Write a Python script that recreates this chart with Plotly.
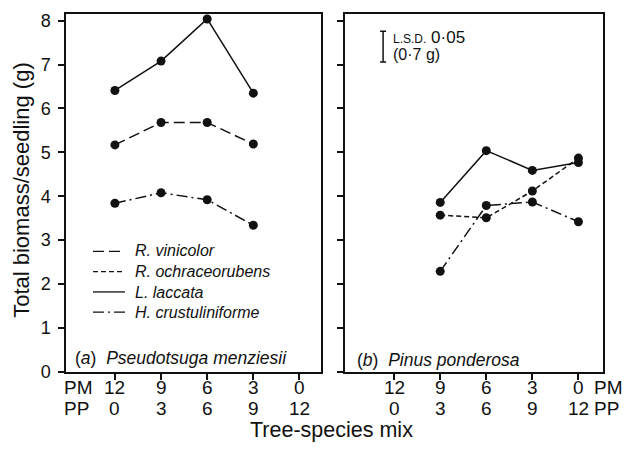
import plotly.graph_objects as go

# ---------------- data ----------------
pp_ticks = [0, 3, 6, 9, 12]              # number of PP seedlings (x position)
pm_labels = ["12", "9", "6", "3", "0"]
pp_labels = ["0", "3", "6", "9", "12"]

pp_a = [0, 3, 6, 9]
a_vinicolor = [5.17, 5.68, 5.68, 5.19]
a_laccata = [6.41, 7.08, 8.04, 6.35]
a_crust = [3.84, 4.08, 3.92, 3.34]

pp_b = [3, 6, 9, 12]
b_laccata = [3.86, 5.04, 4.59, 4.77]
b_ochra = [3.57, 3.51, 4.12, 4.87]
b_crust = [2.29, 3.79, 3.87, 3.42]

lsd = 0.7
y_ticks = [0, 1, 2, 3, 4, 5, 6, 7, 8]
legend_names = ["R. vinicolor", "R. ochraceorubens", "L. laccata", "H. crustuliniforme"]

# ---------------- styles ----------------
FONT = "Liberation Sans, Arial, sans-serif"
BLACK = "#111111"
dash_vin = "11px,5px"
dash_och = "5px,3px"
dash_lac = "solid"
dash_cru = "11px,4px,2px,4px"
legend_dashes = [dash_vin, dash_och, dash_lac, dash_cru]

W, H = 631, 449
px = lambda v: v / W
py = lambda v: (H - v) / H

fig = go.Figure()

def series(x, y, dash, xa, ya):
    fig.add_trace(go.Scatter(
        x=x, y=y, mode="lines+markers", xaxis=xa, yaxis=ya,
        line=dict(color=BLACK, width=1.5, dash=dash),
        marker=dict(color=BLACK, size=9),
        showlegend=False, hoverinfo="skip"))

series(pp_a, a_laccata, dash_lac, "x", "y")
series(pp_a, a_vinicolor, dash_vin, "x", "y")
series(pp_a, a_crust, dash_cru, "x", "y")
series(pp_b, b_laccata, dash_lac, "x2", "y2")
series(pp_b, b_ochra, dash_och, "x2", "y2")
series(pp_b, b_crust, dash_cru, "x2", "y2")

# LSD bar
fig.add_trace(go.Scatter(
    x=[-0.72], y=[7.41], mode="markers", xaxis="x2", yaxis="y2",
    marker=dict(size=1, color="rgba(0,0,0,0)"),
    error_y=dict(type="constant", value=lsd / 2, color=BLACK, thickness=1.5, width=3),
    showlegend=False, hoverinfo="skip"))

ydom = [py(380), py(12)]
axis_common = dict(showline=True, linecolor=BLACK, linewidth=1.5, mirror=True,
                   ticks="outside", ticklen=6, tickwidth=1.5, tickcolor=BLACK,
                   showgrid=False, zeroline=False)

fig.update_layout(
    width=W, height=H,
    margin=dict(l=0, r=0, t=0, b=0),
    paper_bgcolor="white", plot_bgcolor="white",
    font=dict(family=FONT, color=BLACK),
    showlegend=False,
    xaxis=dict(domain=[px(66), px(321)], range=[-3.18, 13.4], tickvals=pp_ticks,
               showticklabels=False, anchor="y", **axis_common),
    xaxis2=dict(domain=[px(345), px(603)], range=[-3.2, 13.6], tickvals=pp_ticks,
                showticklabels=False, anchor="y2", **axis_common),
    yaxis=dict(domain=ydom, range=[0, 8.16], tickvals=y_ticks, anchor="x",
               tickfont=dict(size=18), ticklabelstandoff=4,
               showticklabels=True, **axis_common),
    yaxis2=dict(domain=ydom, range=[0, 8.16], tickvals=y_ticks, anchor="x2",
                showticklabels=False, **axis_common),
)

ann = []
shapes = []
row1_y = py(396)
row2_y = py(418)
for xa in ["x", "x2"]:
    for v, pm, pp in zip(pp_ticks, pm_labels, pp_labels):
        ann.append(dict(x=v, y=row1_y, xref=xa, yref="paper", text=pm, showarrow=False,
                        font=dict(size=19), xanchor="center", yanchor="middle"))
        ann.append(dict(x=v, y=row2_y, xref=xa, yref="paper", text=pp, showarrow=False,
                        font=dict(size=19), xanchor="center", yanchor="middle"))
for xp in [px(64), px(594)]:
    ann.append(dict(x=xp, y=row1_y, xref="paper", yref="paper", text="PM", showarrow=False,
                    font=dict(size=19), xanchor="left", yanchor="middle", xshift=-2))
    ann.append(dict(x=xp, y=row2_y, xref="paper", yref="paper", text="PP", showarrow=False,
                    font=dict(size=19), xanchor="left", yanchor="middle", xshift=-2))
ann.append(dict(x=px(331), y=py(440), xref="paper", yref="paper",
                text="Tree-species mix", showarrow=False, font=dict(size=21.5),
                xanchor="center", yanchor="middle"))
ann.append(dict(x=px(22), y=py(193), xref="paper", yref="paper",
                text="Total biomass/seedling (g)", showarrow=False, font=dict(size=22),
                textangle=-90, xanchor="center", yanchor="middle"))
ann.append(dict(x=px(73), y=py(366), xref="paper", yref="paper",
                text="(<i>a</i>)  <i>Pseudotsuga menziesii</i>", showarrow=False,
                font=dict(size=17.5), xanchor="left", yanchor="middle"))
ann.append(dict(x=px(355), y=py(368), xref="paper", yref="paper",
                text="(<i>b</i>)  <i>Pinus ponderosa</i>", showarrow=False,
                font=dict(size=17.5), xanchor="left", yanchor="middle"))
ann.append(dict(x=px(391), y=py(36), xref="paper", yref="paper",
                text="<span style='font-size:12px'>L.S.D.</span> 0·05", showarrow=False,
                font=dict(size=17), xanchor="left", yanchor="middle"))
ann.append(dict(x=px(391), y=py(54), xref="paper", yref="paper",
                text="(0·7 g)", showarrow=False,
                font=dict(size=16), xanchor="left", yanchor="middle"))

# manual legend: one multi-line text block plus line samples
leg_font = 16
leg_step = leg_font * 1.3
leg_center = 287.5
leg_rows = [leg_center + (i - 1.5) * leg_step for i in range(len(legend_names))]
ann.append(dict(x=px(133), y=py(leg_center), xref="paper", yref="paper",
                text="<br>".join(f"<i>{n}</i>" for n in legend_names), showarrow=False,
                font=dict(size=leg_font), xanchor="left", yanchor="middle", align="left"))
for dash, ry in zip(legend_dashes, leg_rows):
    shapes.append(dict(type="line", xref="paper", yref="paper",
                       x0=px(93), x1=px(125), y0=py(ry), y1=py(ry),
                       line=dict(color=BLACK, width=1.3, dash=dash)))

fig.update_layout(annotations=ann, shapes=shapes)

fig.write_html("out.html")
